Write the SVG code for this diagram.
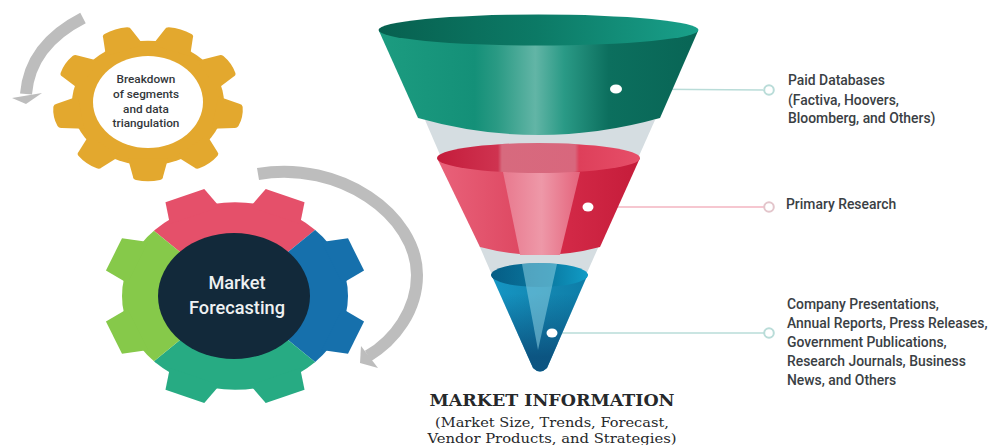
<svg xmlns="http://www.w3.org/2000/svg" xmlns:xlink="http://www.w3.org/1999/xlink" width="992" height="445" viewBox="0 0 992 445">
<style>
.lbl{font-family:Roboto,"Liberation Sans",sans-serif;font-size:13.900px;font-weight:500;fill:#3a4044}
.gt{font-family:Roboto,"Liberation Sans",sans-serif;font-size:11.800px;font-weight:500;fill:#33373b;text-anchor:middle}
.mf{font-family:Roboto,"Liberation Sans",sans-serif;font-size:18.200px;font-weight:500;fill:#eef1f2;text-anchor:middle}
.ser{font-family:"DejaVu Serif","Liberation Serif",serif;fill:#26282a;text-anchor:middle}
.arc{fill:none;stroke:#bdbdbd;stroke-width:12}
.head{fill:#bdbdbd}
.dot{fill:#fff}
.ln{fill:none;stroke-width:1.3}
.ring{fill:#fff;stroke-width:2}
</style>
<defs>
<linearGradient id="gBody" x1="0" x2="1" y1="0" y2="0"><stop offset="0" stop-color="#1c9c80"/><stop offset=".3" stop-color="#149078"/><stop offset=".37" stop-color="#2a9a84"/><stop offset=".49" stop-color="#62b5a6"/><stop offset=".58" stop-color="#2a9a86"/><stop offset=".72" stop-color="#0c6f5e"/><stop offset="1" stop-color="#086555"/></linearGradient>
<linearGradient id="gRim" x1="0" x2="1" y1="0" y2="0"><stop offset="0" stop-color="#07604f"/><stop offset=".5" stop-color="#0c7a66"/><stop offset="1" stop-color="#19a08a"/></linearGradient>
<linearGradient id="rBody" x1="0" x2="1" y1="0" y2="0"><stop offset="0" stop-color="#e9627a"/><stop offset=".45" stop-color="#dd4660"/><stop offset=".55" stop-color="#d62c4a"/><stop offset="1" stop-color="#c51c3a"/></linearGradient>
<linearGradient id="rHi" x1="0" x2="1" y1="0" y2="0"><stop offset="0" stop-color="#e8798e"/><stop offset=".5" stop-color="#ee98a8"/><stop offset="1" stop-color="#e4647c"/></linearGradient>
<linearGradient id="rRim" x1="0" x2="1" y1="0" y2="0"><stop offset="0" stop-color="#c41c3b"/><stop offset=".3" stop-color="#cf3350"/><stop offset=".32" stop-color="#d76a7e"/><stop offset=".68" stop-color="#d8677d"/><stop offset=".7" stop-color="#de3f5a"/><stop offset="1" stop-color="#e64f69"/></linearGradient>
<linearGradient id="bBody" x1="0" x2="1" y1="0" y2="0"><stop offset="0" stop-color="#1596c4"/><stop offset=".6" stop-color="#1386b0"/><stop offset="1" stop-color="#0d7da8"/></linearGradient>
<linearGradient id="bRim" x1="0" x2="1" y1="0" y2="0"><stop offset="0" stop-color="#065d85"/><stop offset=".6" stop-color="#0a7aa2"/><stop offset="1" stop-color="#119cc6"/></linearGradient>
<linearGradient id="bShade" x1="0" x2="0" y1="0" y2="1"><stop offset=".2" stop-color="#0b4f7c" stop-opacity="0"/><stop offset=".85" stop-color="#0b4f7c" stop-opacity=".9"/></linearGradient>
<path id="ty" d="M-20-68L-15-90Q-15-93-12-94Q0-97 12-94Q15-93 15-90L20-68Z"/>
<path id="tb" d="M-27-105L-21-131L21-131L27-105Z"/>
<g id="bigGear" transform="translate(235 296) scale(1 .83)">
<circle r="113"/>
<use xlink:href="#tb" href="#tb" transform="rotate(22.500)"/><use xlink:href="#tb" href="#tb" transform="rotate(67.500)"/><use xlink:href="#tb" href="#tb" transform="rotate(112.500)"/><use xlink:href="#tb" href="#tb" transform="rotate(157.500)"/><use xlink:href="#tb" href="#tb" transform="rotate(202.500)"/><use xlink:href="#tb" href="#tb" transform="rotate(247.500)"/><use xlink:href="#tb" href="#tb" transform="rotate(292.500)"/><use xlink:href="#tb" href="#tb" transform="rotate(337.500)"/>
</g>
<clipPath id="cTop"><polygon points="234,296 72,164 396,164"/></clipPath>
<clipPath id="cRight"><polygon points="234,296 396,164 396,428"/></clipPath>
<clipPath id="cBot"><polygon points="234,296 396,428 72,428"/></clipPath>
<clipPath id="cLeft"><polygon points="234,296 72,428 72,164"/></clipPath>
</defs>
<rect width="992" height="445" fill="#fff"/>

<g id="connectors">
<path class="arc" d="M83 18Q30 45 26 94"/><polygon class="head" points="12,98 42,93 26,104"/>
<path class="arc" d="M258 174C340 160 417 215 417 275C417 310 395 340 368 356"/><polygon class="head" points="361,346 360,363 378,368"/>
<path class="ln" stroke="#b9dcd8" d="M622 89L765 90"/>
<path class="ln" stroke="#f3b4c0" d="M594 207L765 207"/>
<path class="ln" stroke="#b9dcd8" d="M558 333L765 333"/>
</g>

<g id="node-breakdown">
<g fill="#e3a82e" transform="translate(148 103) scale(1 .82)">
<circle r="76"/>
<use xlink:href="#ty" href="#ty" transform="rotate(20)"/><use xlink:href="#ty" href="#ty" transform="rotate(60)"/><use xlink:href="#ty" href="#ty" transform="rotate(100)"/><use xlink:href="#ty" href="#ty" transform="rotate(140)"/><use xlink:href="#ty" href="#ty" transform="rotate(180)"/><use xlink:href="#ty" href="#ty" transform="rotate(220)"/><use xlink:href="#ty" href="#ty" transform="rotate(260)"/><use xlink:href="#ty" href="#ty" transform="rotate(300)"/><use xlink:href="#ty" href="#ty" transform="rotate(340)"/>
</g>
<ellipse cx="148" cy="102" rx="55" ry="46" fill="#fff"/>
<text class="gt" x="146" y="83">Breakdown</text>
<text class="gt" x="146" y="98">of segments</text>
<text class="gt" x="146" y="113">and data</text>
<text class="gt" x="146" y="127">triangulation</text>
</g>

<g id="node-forecasting">
<g clip-path="url(#cTop)"><use xlink:href="#bigGear" href="#bigGear" fill="#e5506a"/></g>
<g clip-path="url(#cRight)"><use xlink:href="#bigGear" href="#bigGear" fill="#1670ac"/></g>
<g clip-path="url(#cBot)"><use xlink:href="#bigGear" href="#bigGear" fill="#27ab83"/></g>
<g clip-path="url(#cLeft)"><use xlink:href="#bigGear" href="#bigGear" fill="#86c94a"/></g>
<ellipse cx="234" cy="296" rx="76" ry="63" fill="#12293a"/>
<text class="mf" x="237" y="289">Market</text>
<text class="mf" x="237" y="314">Forecasting</text>
</g>

<g id="funnel">
<polygon points="425,120 655,120 586,275 492,275" fill="#d5dde1"/>
<g id="node-paid">
<path d="M379 31L418 118Q538 152 660 118L698 31Z" fill="url(#gBody)"/>
<ellipse cx="538.500" cy="30" rx="160" ry="15.500" fill="url(#gRim)"/>
<ellipse class="dot" cx="616" cy="89" rx="6" ry="4.500"/>
</g>
<g id="node-primary">
<path d="M437 158L480 247Q540 263 600 247L640 158Z" fill="url(#rBody)"/>
<polygon points="503,172 580,172 560,255 520,255" fill="url(#rHi)"/>
<ellipse cx="538.500" cy="158" rx="101.500" ry="15" fill="url(#rRim)"/>
<ellipse class="dot" cx="588" cy="207" rx="5.500" ry="4.500"/>
</g>
<g id="node-company">
<path d="M491 274L533 368Q540 375 547 368L588 274Z" fill="url(#bBody)"/>
<path d="M491 274L533 368Q540 375 547 368L588 274Z" fill="url(#bShade)"/>
<ellipse cx="539.500" cy="275" rx="48.500" ry="12" fill="url(#bRim)"/>
<path d="M522 264Q540 262 557 264L538 350Z" fill="#8ccfe2" opacity=".55"/>
<ellipse class="dot" cx="552" cy="333" rx="5.500" ry="4.500"/>
</g>
</g>

<g id="label-paid">
<circle class="ring" cx="769" cy="90" r="4.800" stroke="#b9dcd8"/>
<text class="lbl" x="788" y="85">Paid Databases</text>
<text class="lbl" x="788" y="105">(Factiva, Hoovers,</text>
<text class="lbl" x="788" y="123">Bloomberg, and Others)</text>
</g>
<g id="label-primary">
<circle class="ring" cx="769" cy="207" r="4.800" stroke="#e3c5cb"/>
<text class="lbl" x="786" y="209">Primary Research</text>
</g>
<g id="label-company">
<circle class="ring" cx="769" cy="333" r="4.800" stroke="#b9dcd8"/>
<text class="lbl" x="787" y="309">Company Presentations,</text>
<text class="lbl" x="787" y="328">Annual Reports, Press Releases,</text>
<text class="lbl" x="787" y="347">Government Publications,</text>
<text class="lbl" x="787" y="366">Research Journals, Business</text>
<text class="lbl" x="787" y="385">News, and Others</text>
</g>
<g id="label-market">
<text class="ser" x="552" y="406" font-size="17" font-weight="700" textLength="245" lengthAdjust="spacingAndGlyphs">MARKET INFORMATION</text>
<text class="ser" x="552" y="427" font-size="12.500" textLength="234" lengthAdjust="spacingAndGlyphs">(Market Size, Trends, Forecast,</text>
<text class="ser" x="552" y="443" font-size="12.500" textLength="249" lengthAdjust="spacingAndGlyphs">Vendor Products, and Strategies)</text>
</g>
</svg>
